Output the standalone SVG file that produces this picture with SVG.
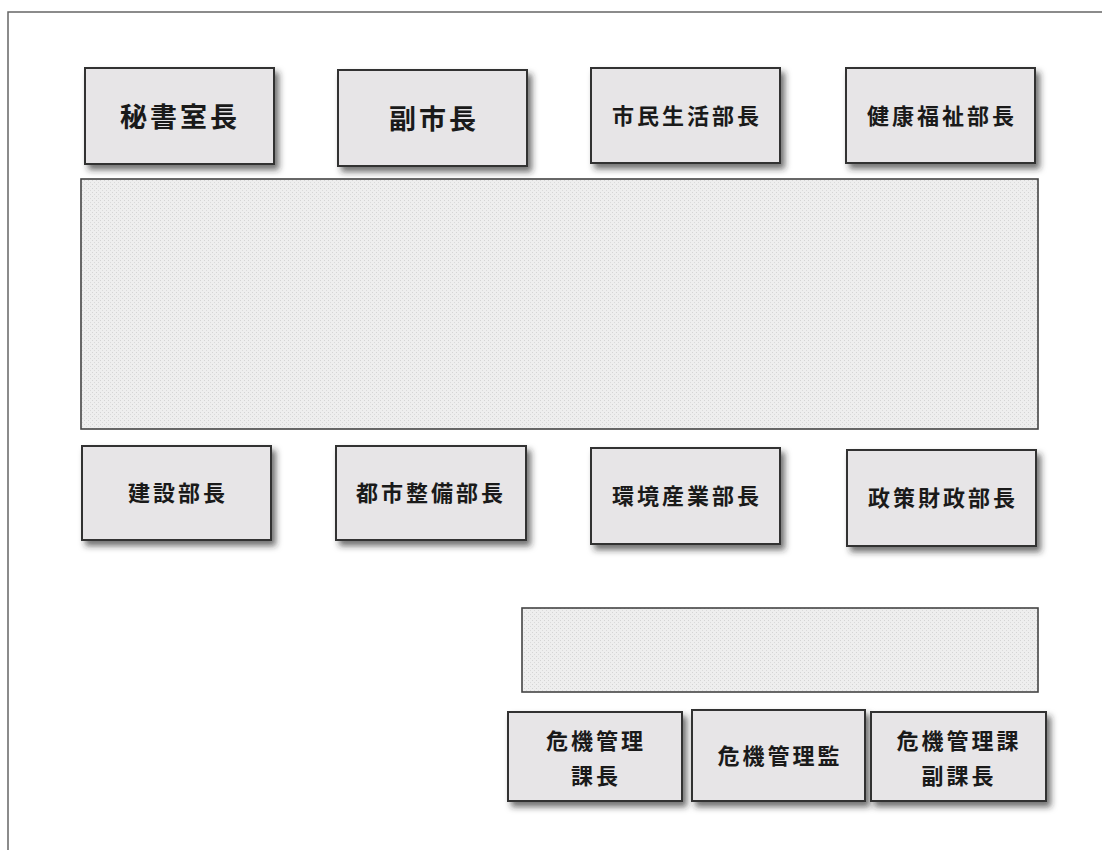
<svg xmlns="http://www.w3.org/2000/svg" width="1102" height="850" viewBox="0 0 1102 850">
<defs>
<filter id="sh" x="-10%" y="-10%" width="130%" height="140%">
<feDropShadow dx="4" dy="5" stdDeviation="3" flood-color="#222" flood-opacity="0.65"/>
</filter>
<pattern id="dots" width="4" height="4" patternUnits="userSpaceOnUse">
<rect width="4" height="4" fill="#eeeeee"/>
<rect x="0" y="0" width="1" height="1" fill="#d4d4d4"/>
<rect x="2" y="2" width="1" height="1" fill="#dadada"/>
</pattern>
</defs>
<style>
.box{fill:#e7e5e7;stroke:#333;stroke-width:2;filter:url(#sh)}
.panel{fill:url(#dots);stroke:#444;stroke-width:1.6}
.t{font-family:"Noto Sans CJK JP","Noto Sans CJK SC",sans-serif;font-weight:bold;fill:#1a1a1a;text-anchor:middle;dominant-baseline:central;font-size:22px;letter-spacing:3px}
.tl{font-size:27px;letter-spacing:3px}
</style>
<rect width="1102" height="850" fill="#fff"/>
<path d="M8 850 V12 H1102" fill="none" stroke="#666" stroke-width="1.5"/>
<g id="panel-top"><rect class="panel" x="81" y="179" width="957" height="250"/></g>
<g id="panel-bottom"><rect class="panel" x="522" y="608" width="516" height="84"/></g>
<g id="connectors"/>
<g id="n-hisho"><rect class="box" x="85" y="68" width="189" height="96"/><text class="t tl" x="180" y="115">秘書室長</text></g>
<g id="n-fukushicho"><rect class="box" x="338" y="70" width="189" height="96"/><text class="t tl" x="434" y="117">副市長</text></g>
<g id="n-shimin"><rect class="box" x="591" y="68" width="189" height="95"/><text class="t" x="687" y="114">市民生活部長</text></g>
<g id="n-kenko"><rect class="box" x="846" y="68" width="189" height="95"/><text class="t" x="942" y="114">健康福祉部長</text></g>
<g id="n-kensetsu"><rect class="box" x="82" y="446" width="189" height="94"/><text class="t" x="178" y="491">建設部長</text></g>
<g id="n-toshi"><rect class="box" x="336" y="446" width="190" height="94"/><text class="t" x="431" y="491">都市整備部長</text></g>
<g id="n-kankyo"><rect class="box" x="591" y="448" width="189" height="96"/><text class="t" x="687" y="494">環境産業部長</text></g>
<g id="n-seisaku"><rect class="box" x="847" y="450" width="189" height="96"/><text class="t" x="943" y="496">政策財政部長</text></g>
<g id="n-kachou"><rect class="box" x="508" y="712" width="174" height="89"/><text class="t" x="596" y="739">危機管理</text><text class="t" x="596" y="774">課長</text></g>
<g id="n-kanri"><rect class="box" x="692" y="710" width="173" height="91"/><text class="t" x="780" y="754">危機管理監</text></g>
<g id="n-fukukachou"><rect class="box" x="871" y="712" width="175" height="89"/><text class="t" x="959" y="739">危機管理課</text><text class="t" x="959" y="774">副課長</text></g>
</svg>
